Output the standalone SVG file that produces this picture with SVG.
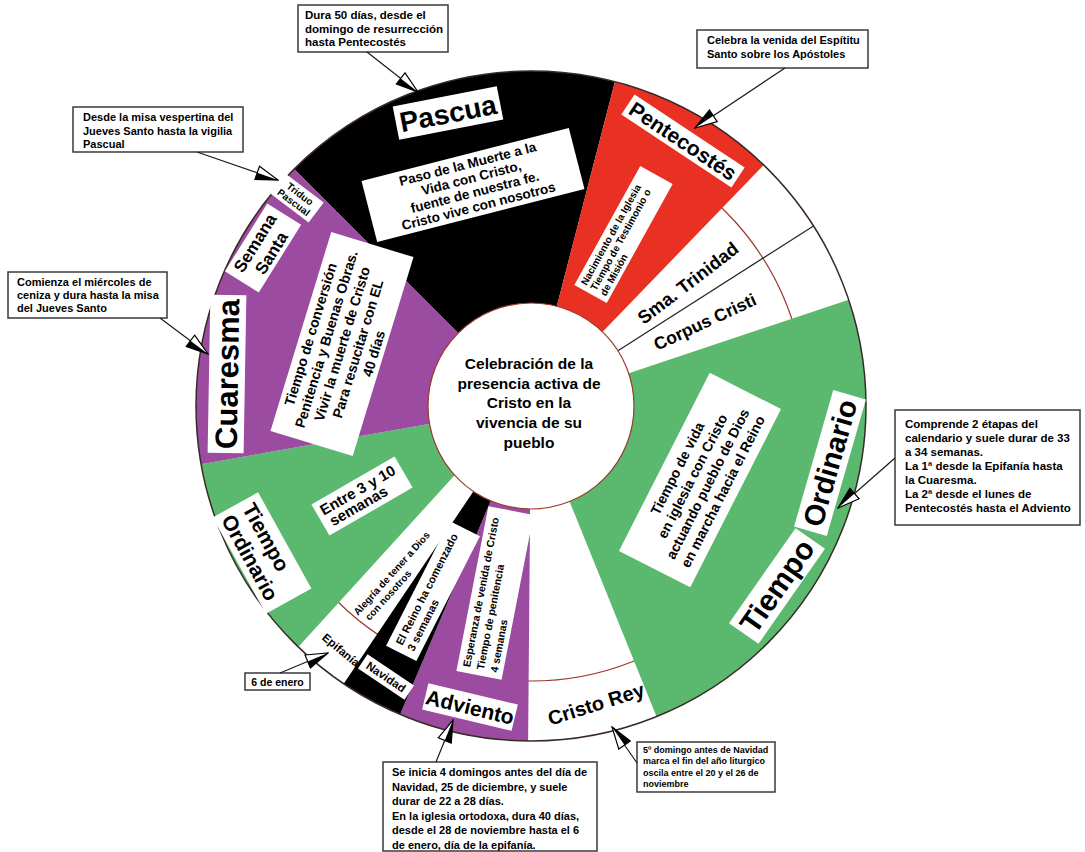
<svg xmlns="http://www.w3.org/2000/svg" width="1085" height="852" viewBox="0 0 1085 852">
<defs>
<style>
.t{font-family:"Liberation Sans",Arial,sans-serif;font-weight:bold;fill:#000}
.m{text-anchor:middle}
.box{fill:#fff}
.cb{fill:#fff;stroke:#3a3a3a;stroke-width:1.5}
.conn{stroke:#1a1a1a;stroke-width:1.2;fill:none;marker-end:url(#ah)}
</style>
<marker id="ah" markerUnits="userSpaceOnUse" viewBox="0 0 24 16" markerWidth="24" markerHeight="16" refX="23" refY="8" orient="auto">
<path d="M1,1 L23,8 L1,15 Z" fill="#fff" stroke="#000" stroke-width="1.2"/>
<path d="M1,8 L23,8 L1,15 Z" fill="#000"/>
</marker>
</defs>
<rect width="1085" height="852" fill="#fff"/>

<g id="wheel">
<circle cx="531" cy="406" r="335" fill="#fff"/>
<circle cx="531" cy="406" r="275" fill="none" stroke="#9b3a2e" stroke-width="1.2"/>
<path id="s-pascua" d="M531,406 L294.1,169.1 A335,335 0 0,1 614.9,81.7 Z" fill="#000"/>
<path id="s-pentecostes" d="M531,406 L614.9,81.7 A335,335 0 0,1 763.7,165.0 Z" fill="#e83023"/>
<path id="s-ordinario-r" d="M531,406 L848.7,299.7 A335,335 0 0,1 656.5,716.6 Z" fill="#5ab96e"/>
<path id="s-adviento" d="M531,406 L528.1,741.0 A335,335 0 0,1 400.1,714.4 Z" fill="#9b4ba0"/>
<path id="s-navidad" d="M531,406 L400.1,714.4 A335,335 0 0,1 343.7,683.7 Z" fill="#000"/>
<path id="s-ordinario-l" d="M531,406 L453,477 L298.3,647.0 A335,335 0 0,1 201.1,464.2 Z" fill="#5ab96e"/>
<path id="s-cuaresma" d="M531,406 L201.1,464.2 A335,335 0 0,1 294.1,169.1 Z" fill="#9b4ba0"/>
<line x1="617.9" y1="350.7" x2="813.5" y2="226.0" stroke="#222" stroke-width="1.2"/>
<circle cx="531" cy="406" r="335" fill="none" stroke="#3a2a25" stroke-width="1.5"/>
<circle cx="531" cy="406" r="103" fill="#fff" stroke="#9b3a2e" stroke-width="1.2"/>
</g>

<g id="n-center" class="t m" font-size="15.5">
<text x="529" y="369">Celebración de la</text>
<text x="529" y="389">presencia activa de</text>
<text x="529" y="408">Cristo en la</text>
<text x="529" y="428">vivencia de su</text>
<text x="529" y="448">pueblo</text>
</g>

<g id="n-pascua" transform="translate(448,113) rotate(-11)">
<rect class="box" x="-53" y="-17" width="106" height="34"/>
<text class="t m" font-size="28" y="10">Pascua</text>
</g>
<g id="n-pascua-desc" transform="translate(473,185) rotate(-14.4)">
<rect class="box" x="-107" y="-31.5" width="214" height="63"/>
<g class="t m" font-size="13.5">
<text y="-17">Paso de la Muerte a la</text>
<text y="-2.5">Vida con Cristo,</text>
<text y="12">fuente de nuestra fe.</text>
<text y="26.5">Cristo vive con nosotros</text>
</g>
</g>
<g id="n-triduo" transform="translate(297,198) rotate(37)">
<rect class="box" x="-24" y="-12.5" width="48" height="25"/>
<g class="t m" font-size="10">
<text y="-1.5">Triduo</text>
<text y="9">Pascual</text>
</g>
</g>
<g id="n-semana" transform="translate(263,248) rotate(-58)">
<rect class="box" x="-40" y="-20" width="80" height="40"/>
<g class="t m" font-size="17">
<text y="-3.5">Semana</text>
<text y="15.5">Santa</text>
</g>
</g>
<g id="n-cuaresma" transform="translate(227,374) rotate(-89)">
<rect class="box" x="-79" y="-18" width="158" height="36"/>
<text class="t m" font-size="31" y="11">Cuaresma</text>
</g>
<g id="n-cuaresma-desc" transform="translate(342,344) rotate(-73)">
<rect class="box" x="-104" y="-43" width="208" height="86"/>
<g class="t m" font-size="14">
<text y="-28">Tiempo de conversión</text>
<text y="-11.5">Penitencia y Buenas Obras.</text>
<text y="5">Vivir la muerte de Cristo</text>
<text y="21.5">Para resucitar con EL</text>
<text y="38">40 días</text>
</g>
</g>
<g id="n-ordinario-l" transform="translate(262,553) rotate(61)">
<rect class="box" x="-55" y="-26" width="110" height="52"/>
<g class="t" font-size="21">
<text x="-49" y="-4">Tiempo</text>
<text x="-49" y="20">Ordinario</text>
</g>
</g>
<g id="n-entre" transform="translate(362,496) rotate(-30)">
<rect class="box" x="-48" y="-18" width="96" height="36"/>
<g class="t" font-size="15">
<text x="-43" y="-2">Entre 3 y 10</text>
<text x="-40" y="12">semanas</text>
</g>
</g>
<g id="n-alegria" transform="translate(358,616) rotate(-48)">
<g class="t" font-size="10">
<text x="0" y="0">Alegría de tener a Dios</text>
<text x="4" y="12">con nosotros</text>
</g>
</g>
<g id="n-epifania" transform="translate(341,650) rotate(40)">
<text class="t m" font-size="11.5" y="4">Epifanía</text>
</g>
<g id="n-navidad" transform="translate(386,677) rotate(34)">
<rect class="box" x="-28" y="-8.5" width="56" height="17"/>
<text class="t m" font-size="11.5" y="4">Navidad</text>
</g>
<g id="n-reino" transform="translate(433,591) rotate(-63)">
<rect class="box" x="-70" y="-17" width="140" height="34"/>
<g class="t" font-size="11">
<text x="-63" y="-2.5">El Reino ha comenzado</text>
<text x="-63" y="10.5">3 semanas</text>
</g>
</g>
<g id="n-esperanza" transform="translate(495,593) rotate(-79)">
<rect class="box" x="-84" y="-23" width="168" height="46"/>
<g class="t" font-size="10.5">
<text x="-78" y="-10.3">Esperanza de venida de Cristo</text>
<text x="-78" y="3.7">Tiempo de penitencia</text>
<text x="-78" y="17.7">4 semanas</text>
</g>
</g>
<g id="n-adviento" transform="translate(470,707) rotate(13.5)">
<rect class="box" x="-46" y="-13.5" width="92" height="27"/>
<text class="t m" font-size="21" y="7.5">Adviento</text>
</g>
<g id="n-cristorey" transform="translate(596,704) rotate(-17.5)">
<text class="t m" font-size="20" y="7">Cristo Rey</text>
</g>
<g id="n-ordinario-desc" transform="translate(700,480) rotate(-63)">
<rect class="box" x="-100" y="-40" width="200" height="80"/>
<g class="t m" font-size="14">
<text y="-20.5">Tiempo de vida</text>
<text y="-3.5">en iglesia con Cristo</text>
<text y="13.5">actuando pueblo de Dios</text>
<text y="30.5">en marcha hacia el Reino</text>
</g>
</g>
<g id="n-tiempo" transform="translate(777,586) rotate(-55)">
<rect class="box" x="-58" y="-18" width="116" height="36"/>
<text class="t m" font-size="30" y="10.5">Tiempo</text>
</g>
<g id="n-ordinario" transform="translate(830,463) rotate(-74)">
<rect class="box" x="-71" y="-17" width="142" height="34"/>
<text class="t m" font-size="29" y="10">Ordinario</text>
</g>
<g id="n-corpus" transform="translate(705,322) rotate(-25)">
<text class="t m" font-size="17.5" y="6">Corpus Cristi</text>
</g>
<g id="n-trinidad" transform="translate(688,283) rotate(-37.5)">
<text class="t m" font-size="18.5" y="6.5">Sma. Trinidad</text>
</g>
<g id="n-nacimiento" transform="translate(623.5,234.5) rotate(-61)">
<rect class="box" x="-68" y="-18.5" width="136" height="37"/>
<g class="t" font-size="10">
<text x="-63" y="-7.5">Nacimiento de la Iglesia</text>
<text x="-63" y="3.5">Tiempo de Testimonio o</text>
<text x="-63" y="14.5">de Misión</text>
</g>
</g>
<g id="n-pentecostes" transform="translate(683,141) rotate(33.5)">
<rect class="box" x="-66" y="-12" width="132" height="24"/>
<text class="t m" font-size="21" y="7.5">Pentecostés</text>
</g>

<g id="c-pascua">
<rect class="cb" x="298" y="5" width="150" height="47"/>
<g class="t" font-size="11.5">
<text x="305" y="19">Dura 50 días, desde el</text>
<text x="305" y="32.5">domingo de resurrección</text>
<text x="305" y="46">hasta Pentecostés</text>
</g>
</g>
<g id="c-triduo">
<rect class="cb" x="73" y="107" width="170" height="45"/>
<g class="t" font-size="11">
<text x="83" y="121">Desde la misa vespertina del</text>
<text x="83" y="134.5">Jueves Santo hasta la vigilia</text>
<text x="83" y="148">Pascual</text>
</g>
</g>
<g id="c-pentecostes">
<rect class="cb" x="697" y="30" width="171" height="38"/>
<g class="t" font-size="11">
<text x="707" y="44">Celebra la venida del Espítitu</text>
<text x="707" y="57.5">Santo sobre los Apóstoles</text>
</g>
</g>
<g id="c-cuaresma">
<rect class="cb" x="8" y="272" width="159" height="46"/>
<g class="t" font-size="11">
<text x="17" y="286">Comienza el miércoles de</text>
<text x="17" y="299">ceniza y dura hasta la misa</text>
<text x="17" y="312">del Jueves Santo</text>
</g>
</g>
<g id="c-ordinario">
<rect class="cb" x="895" y="410" width="185" height="115"/>
<g class="t" font-size="11.5">
<text x="905" y="428">Comprende 2 étapas del</text>
<text x="905" y="442">calendario y suele durar de 33</text>
<text x="905" y="456">a 34 semanas.</text>
<text x="905" y="470">La 1ª desde la Epifanía hasta</text>
<text x="905" y="484">la Cuaresma.</text>
<text x="905" y="498">La 2ª desde el lunes de</text>
<text x="905" y="512">Pentecostés hasta el Adviento</text>
</g>
</g>
<g id="c-epifania">
<rect class="cb" x="245" y="673" width="65" height="17"/>
<text class="t m" font-size="10.5" x="277.5" y="685.5">6 de enero</text>
</g>
<g id="c-adviento">
<rect class="cb" x="383" y="762" width="214" height="89"/>
<g class="t" font-size="11">
<text x="392" y="776">Se inicia 4 domingos antes del día de</text>
<text x="392" y="790.5">Navidad, 25 de diciembre, y suele</text>
<text x="392" y="805">durar de 22 a 28 días.</text>
<text x="392" y="819.5">En la iglesia ortodoxa, dura 40 días,</text>
<text x="392" y="834">desde el 28 de noviembre hasta el 6</text>
<text x="392" y="848.5">de enero, día de la epifanía.</text>
</g>
</g>
<g id="c-cristorey">
<rect class="cb" x="637" y="742" width="138" height="50"/>
<g class="t" font-size="9">
<text x="643" y="752.5">5º domingo antes de Navidad</text>
<text x="643" y="764">marca el fin del año liturgico</text>
<text x="643" y="775.5">oscila entre el 20 y el 26 de</text>
<text x="643" y="787">noviembre</text>
</g>
</g>

<g id="connectors">
<line class="conn" x1="367" y1="52" x2="418" y2="92"/>
<line class="conn" x1="197" y1="152" x2="278" y2="180"/>
<line class="conn" x1="785" y1="68" x2="695" y2="128"/>
<line class="conn" x1="160" y1="318" x2="208" y2="354"/>
<line class="conn" x1="895" y1="458" x2="838" y2="508"/>
<line class="conn" x1="280" y1="673" x2="328" y2="653"/>
<line class="conn" x1="436" y1="762" x2="453" y2="720"/>
<line class="conn" x1="637" y1="763" x2="612" y2="727"/>
</g>
</svg>
